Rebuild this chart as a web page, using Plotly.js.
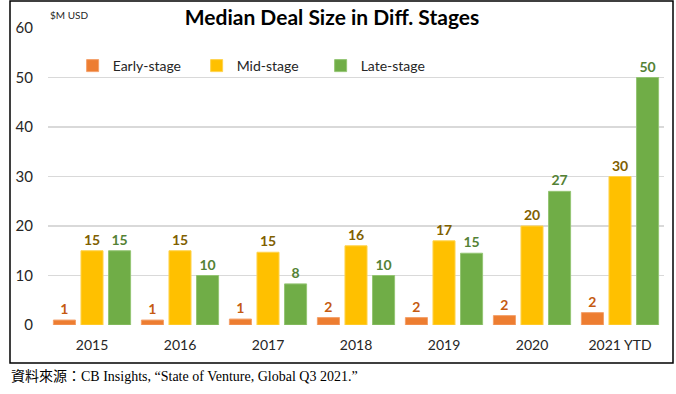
<!DOCTYPE html>
<html>
<head>
<meta charset="utf-8">
<script src="https://cdn.plot.ly/plotly-3.0.1.min.js"></script>
<style>
html,body{margin:0;padding:0;background:#fff;}
#chart{width:676px;height:394px;}
</style>
</head>
<body>
<div id="chart"></div>
<script>
const years = ['2015','2016','2017','2018','2019','2020','2021 YTD'];
const early = [1.0, 1.0, 1.2, 1.5, 1.5, 1.9, 2.5];
const mid = [15, 15, 14.7, 16, 17, 20, 30];
const late = [15, 10, 8.3, 10, 14.5, 27, 50];
const earlyLabels = ['1','1','1','2','2','2','2'];
const midLabels = ['15','15','15','16','17','20','30'];
const lateLabels = ['15','10','8','10','15','27','50'];
const yTicks = [0, 10, 20, 30, 40, 50, 60];

const F = 'Lato, "Open Sans", sans-serif';

function tr(name, y, txt, color, line, tcolor){
  return {
    type:'bar', name:name, x:years, y:y, text:txt,
    textposition:'outside', cliponaxis:false,
    textfont:{family:F, size:14, color:tcolor, weight:'bold'},
    marker:{color:color, line:{color:line, width:1}},
    hoverinfo:'none'
  };
}

const data = [
  tr('Early-stage', early, earlyLabels, '#ED7D31', '#F4A06A', '#C55A11'),
  tr('Mid-stage', mid, midLabels, '#FFC000', '#FFD34D', '#7F6000'),
  tr('Late-stage', late, lateLabels, '#70AD47', '#94C573', '#548235')
];

const layout = {
  width:676, height:394,
  margin:{l:48, r:12, t:28, b:69},
  paper_bgcolor:'#fff', plot_bgcolor:'#fff',
  font:{family:F, size:14, color:'#262626'},
  barmode:'group', bargap:0.06, bargroupgap:0.2,
  showlegend:true,
  title:{text:'<b>Median Deal Size in Diff. Stages</b>', font:{family:F, size:21, color:'#000'},
    xref:'container', yref:'container', x:332/676, y:1-18/394, xanchor:'center', yanchor:'middle'},
  legend:{orientation:'h', x:0.04, y:0.872, xanchor:'left', yanchor:'middle',
    font:{family:F, size:14, color:'#262626'}, entrywidth:79, entrywidthmode:'pixels',
    itemwidth:30, bgcolor:'rgba(0,0,0,0)'},
  xaxis:{type:'category', showgrid:false, zeroline:false, showline:false, ticks:'',
    tickfont:{family:F, size:14, color:'#262626'}, ticklabelstandoff:10, fixedrange:true},
  yaxis:{range:[0,60], tickvals:yTicks, ticktext:yTicks.map(String), showgrid:true, gridcolor:'#D9D9D9', gridwidth:1.5,
    zeroline:false, showline:false, ticks:'', tickfont:{family:F, size:15, color:'#262626'}, ticklabelstandoff:14, fixedrange:true},
  annotations:[
    {text:'$M USD', xref:'paper', yref:'paper', x:0, y:(325-15)/297, xanchor:'left', yanchor:'middle',
      showarrow:false, font:{family:F, size:10, color:'#262626'}},
    {text:'資料來源：CB Insights, “State of Venture, Global Q3 2021.”', xref:'paper', yref:'paper',
      x:(9-48)/616, y:(325-376)/297, xanchor:'left', yanchor:'middle', showarrow:false,
      font:{family:'"Liberation Serif", "Noto Sans CJK TC", serif', size:14, color:'#000'}}
  ],
  shapes:[
    {type:'rect', xref:'paper', yref:'paper', x0:(10-48)/616, x1:(673-48)/616, y0:(325-363)/297, y1:(325-1)/297,
      line:{color:'#000', width:1.5}, fillcolor:'rgba(0,0,0,0)', layer:'above'}
  ]
};

Plotly.newPlot('chart', data, layout, {displayModeBar:false, staticPlot:true});
</script>
</body>
</html>
